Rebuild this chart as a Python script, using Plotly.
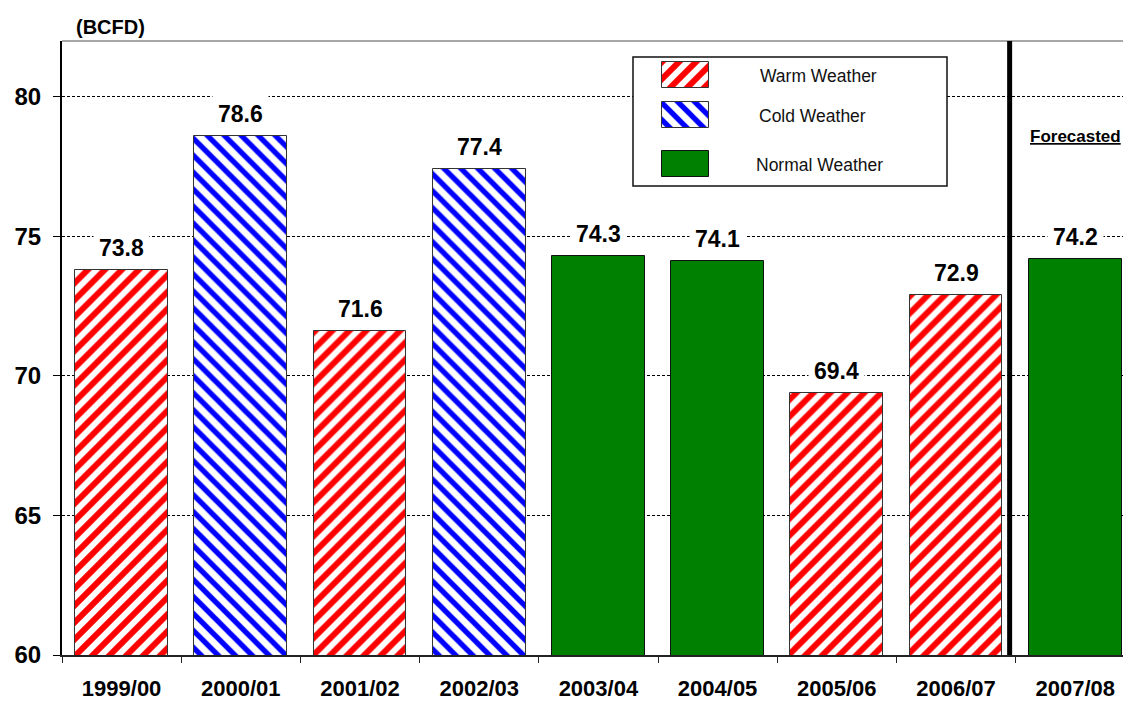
import plotly.graph_objects as go

# Winter-season gas demand by heating season, in BCFD
seasons = ["1999/00", "2000/01", "2001/02", "2002/03", "2003/04",
           "2004/05", "2005/06", "2006/07", "2007/08"]
demand = [73.8, 78.6, 71.6, 77.4, 74.3, 74.1, 69.4, 72.9, 74.2]
weather = ["Warm", "Cold", "Warm", "Cold", "Normal", "Normal", "Warm", "Warm", "Normal"]
y_ticks = [60, 65, 70, 75, 80]
legend_names = ["Warm Weather", "Cold Weather", "Normal Weather"]

FONT = "Arial, Liberation Sans, sans-serif"
W, H = 1123, 702
L, R, T, B = 62, 0, 41, 47
PX_PER_CAT = 119.2
PLOT_W, PLOT_H = W - L - R, H - T - B


def px_x(px):
    """Figure pixel column -> paper fraction of the plot area."""
    return (px - L) / PLOT_W


def px_y(py):
    """Figure pixel row (from top) -> paper fraction of the plot area."""
    return (H - B - py) / PLOT_H


styles = {
    "Warm": dict(color="white", line=dict(color="#333333", width=1),
                 pattern=dict(shape="/", fgcolor="#ff0000", bgcolor="white",
                              fgopacity=1, size=12, solidity=0.5)),
    "Cold": dict(color="white", line=dict(color="#333333", width=1),
                 pattern=dict(shape="\\", fgcolor="#0000ff", bgcolor="white",
                              fgopacity=1, size=12, solidity=0.45)),
    "Normal": dict(color="#008000", line=dict(color="#111111", width=1)),
}

fig = go.Figure()

for kind in ["Warm", "Cold", "Normal"]:
    idx = [i for i, w in enumerate(weather) if w == kind]
    fig.add_trace(go.Bar(
        x=idx, y=[demand[i] for i in idx], width=0.78,
        marker=styles[kind], showlegend=False, hoverinfo="skip",
    ))

# value labels above bars, boxed in white so the grid breaks behind them
annotations = []
for i, v in enumerate(demand):
    annotations.append(dict(
        x=i, y=v, xref="x", yref="y", text=f"{v:.1f}", showarrow=False,
        yanchor="middle", yshift=22, bgcolor="white", borderpad=5,
        font=dict(family=FONT, size=23, color="black", weight="bold"),
    ))

x_range = [-0.5, -0.5 + PLOT_W / PX_PER_CAT]

# empty trace to register the boundary-tick axis
fig.add_trace(go.Scatter(x=[], y=[], xaxis="x2", yaxis="y", showlegend=False))

# custom legend: swatches drawn as bars in an inset axis
leg_box = dict(x0=633, x1=947, y0=57, y1=186)
leg_w = leg_box["x1"] - leg_box["x0"]
leg_h = leg_box["y1"] - leg_box["y0"]
swatch_left, swatch_len, swatch_thick = 29, 47, 26
swatch_y = [18, 58, 106.5]
label_x = [185, 179, 186]
label_y = [19, 59, 108]
for k, kind in enumerate(["Warm", "Cold", "Normal"]):
    fig.add_trace(go.Bar(
        x=[swatch_len], y=[swatch_y[k]], base=[swatch_left], orientation="h",
        width=swatch_thick, marker=styles[kind], xaxis="x3", yaxis="y3",
        showlegend=False, hoverinfo="skip",
    ))
    annotations.append(dict(
        x=label_x[k], y=label_y[k], xref="x3", yref="y3", text=legend_names[k],
        showarrow=False, xanchor="center", yanchor="middle",
        font=dict(family=FONT, size=17.5, color="#111111"),
    ))

annotations.append(dict(
    x=px_x(110), y=px_y(27), xref="paper", yref="paper", text="(BCFD)",
    showarrow=False, xanchor="center", yanchor="middle",
    font=dict(family=FONT, size=20, color="black", weight="bold"),
))
annotations.append(dict(
    x=8, y=px_y(137), xref="x", yref="paper", text="<u>Forecasted</u>",
    showarrow=False, xanchor="center", yanchor="middle",
    font=dict(family=FONT, size=17, color="black", weight="bold"),
))

shapes = [
    # light frame line along the top of the plot
    dict(type="line", xref="x domain", yref="y domain", x0=0, x1=1, y0=1, y1=1,
         line=dict(color="#a8a8a8", width=2)),
    # divider between actual and forecasted seasons
    dict(type="line", xref="x", yref="y domain", x0=7.45, x1=7.45, y0=0, y1=1,
         line=dict(color="black", width=5)),
    # legend frame
    dict(type="rect", xref="paper", yref="paper",
         x0=px_x(leg_box["x0"]), x1=px_x(leg_box["x1"]),
         y0=px_y(leg_box["y1"]), y1=px_y(leg_box["y0"]),
         line=dict(color="#111111", width=1.5), fillcolor="rgba(0,0,0,0)"),
]

fig.update_layout(
    width=W, height=H, autosize=False,
    margin=dict(l=L, r=R, t=T, b=B, pad=0),
    paper_bgcolor="white", plot_bgcolor="white",
    barmode="overlay", bargap=0,
    font=dict(family=FONT, color="black"),
    xaxis=dict(
        range=x_range, tickmode="array", tickvals=list(range(len(seasons))),
        ticktext=seasons, ticks="", showgrid=False, zeroline=False,
        showline=True, linecolor="#222222", linewidth=2,
        ticklabelstandoff=13, automargin=False,
        tickfont=dict(family=FONT, size=22, color="black", weight="bold"),
    ),
    xaxis2=dict(
        overlaying="x", anchor="y", side="bottom", range=x_range,
        tickmode="array", tickvals=[i - 0.5 for i in range(len(seasons) + 1)],
        ticks="outside", ticklen=7, tickwidth=1, tickcolor="#222222",
        showticklabels=False, showgrid=False, zeroline=False, showline=False,
        automargin=False,
    ),
    yaxis=dict(
        range=[60, 82], tickmode="array", tickvals=y_ticks,
        ticks="outside", ticklen=7, tickwidth=1, tickcolor="black",
        showgrid=True, gridcolor="black", gridwidth=1, griddash="3px,2px",
        zeroline=False, showline=True, linecolor="black", linewidth=2,
        ticklabelstandoff=7, automargin=False,
        tickfont=dict(family=FONT, size=24, color="black", weight="bold"),
    ),
    xaxis3=dict(domain=[px_x(leg_box["x0"]), px_x(leg_box["x1"])], range=[0, leg_w],
                anchor="y3", visible=False, fixedrange=True),
    yaxis3=dict(domain=[px_y(leg_box["y1"]), px_y(leg_box["y0"])], range=[leg_h, 0],
                anchor="x3", visible=False, fixedrange=True),
    annotations=annotations,
    shapes=shapes,
)

fig.write_html("out.html")
